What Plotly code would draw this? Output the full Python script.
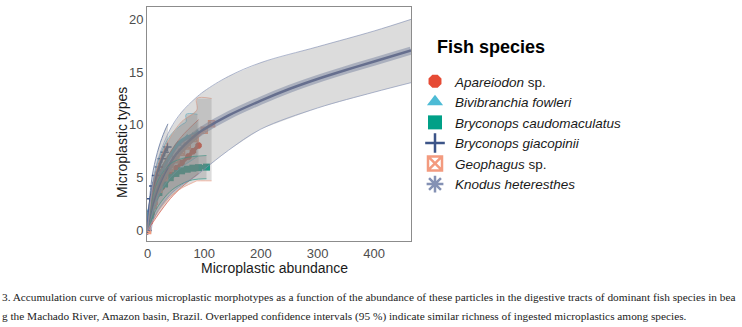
import plotly.graph_objects as go

# ---------------- data ----------------
species = ["Apareiodon sp.", "Bivibranchia fowleri", "Bryconops caudomaculatus",
           "Bryconops giacopinii", "Geophagus sp.", "Knodus heteresthes"]
legend_labels = ["<i>Apareiodon</i> sp.", "<i>Bivibranchia fowleri</i>",
                 "<i>Bryconops caudomaculatus</i>", "<i>Bryconops giacopinii</i>",
                 "<i>Geophagus</i> sp.", "<i>Knodus heteresthes</i>"]

# estimated curves
apa_x = [0, 3, 7, 12, 19, 25, 31, 40, 51, 60, 72, 80, 90]
apa_y = [0, 0.8, 1.6, 2.6, 3.5, 4.1, 4.7, 5.3, 5.9, 6.4, 7.0, 7.5, 8.05]
apa_bx = [0, 10, 20, 40, 60, 90]
apa_up = [0, 3.6, 5.4, 7.4, 8.9, 10.5]
apa_lo = [0, 0.8, 1.6, 3.0, 4.1, 5.4]

biv_x = [0, 5, 10, 20, 30, 40, 54, 70, 80, 88]
biv_y = [0, 2.0, 3.3, 5.0, 6.2, 7.1, 8.2, 8.8, 9.0, 9.25]
biv_bx = [0, 10, 20, 40, 60, 68, 68, 88]
biv_up = [0, 4.6, 6.8, 9.0, 10.0, 10.3, 11.0, 11.0]
biv_lo = [0, 2.0, 3.4, 5.0, 6.0, 6.3, 6.3, 7.0]

bca_x = [0, 5, 10, 20, 30, 40, 50, 60, 70, 80, 90, 104]
bca_y = [0, 1.4, 2.4, 3.6, 4.4, 5.0, 5.4, 5.65, 5.8, 5.9, 5.95, 6.0]
bca_bx = [0, 10, 20, 40, 60, 80, 104]
bca_up = [0, 3.4, 4.9, 6.3, 6.8, 7.0, 7.1]
bca_lo = [0, 1.4, 2.4, 3.7, 4.4, 4.8, 4.9]

bgi_x = [0, 3, 6, 10, 15, 20, 25, 30, 35]
bgi_y = [0, 1.8, 3.0, 4.2, 5.2, 6.0, 6.8, 7.4, 7.9]
bgi_bx = [0, 5, 10, 20, 30, 36]
bgi_up = [0, 3.8, 5.7, 7.9, 9.4, 10.1]
bgi_lo = [0, 1.3, 2.5, 4.1, 5.3, 5.9]

geo_x = [0, 10, 20, 30, 40, 50, 60, 70, 84, 100, 113]
geo_y = [0, 2.4, 3.9, 5.0, 5.9, 6.7, 7.4, 8.0, 8.7, 9.5, 10.1]
geo_bx = [0, 10, 20, 40, 60, 87, 87, 113]
geo_up = [0, 4.4, 6.4, 8.8, 10.3, 11.4, 12.5, 12.5]
geo_lo = [0, 1.0, 1.9, 3.2, 4.0, 4.7, 4.7, 4.7]

kno_x = [0, 5, 10, 20, 30, 50, 84, 100, 143, 200, 250, 300, 350, 400, 465]
kno_y = [0, 1.5, 2.6, 4.2, 5.4, 7.2, 9.0, 9.6, 10.9, 12.3, 13.4, 14.35, 15.2, 16.0, 17.05]
kno_bx = [0, 10, 20, 40, 60, 84, 100, 143, 200, 300, 400, 465]
kno_up = [0, 4.8, 7.0, 9.6, 11.2, 12.5, 13.2, 14.6, 15.9, 17.4, 18.9, 20.0]
kno_lo = [0, 1.0, 2.0, 3.4, 4.3, 5.1, 5.8, 7.6, 9.6, 11.6, 13.1, 14.0]

x_ticks = [0, 100, 200, 300, 400]
y_ticks = [0, 5, 10, 15, 20]

caption_1 = ("3. Accumulation curve of various microplastic morphotypes as a function of the abundance "
             "of these particles in the digestive tracts of dominant fish species in bea")
caption_2 = ("g the Machado River, Amazon basin, Brazil. Overlapped confidence intervals (95 %) "
             "indicate similar richness of ingested microplastics among species.")

colors = ["#E64B35", "#4DBBD5", "#00A087", "#3C5488", "#F39B7F", "#8491B4"]
symbols = ["octagon", "triangle-up", "square", "cross-thin-open", "square-x-open", "asterisk-open"]
line_widths = [3.5, 4, 4.5, 3, 3, 2.5]
marker_sizes = [7, 7, 7, 6, 6, 6]

curves = [(apa_x, apa_y), (biv_x, biv_y), (bca_x, bca_y), (bgi_x, bgi_y), (geo_x, geo_y), (kno_x, kno_y)]
bands = [(apa_bx, apa_up, apa_lo), (biv_bx, biv_up, biv_lo), (bca_bx, bca_up, bca_lo),
         (bgi_bx, bgi_up, bgi_lo), (geo_bx, geo_up, geo_lo), (kno_bx, kno_up, kno_lo)]

FONT = "Liberation Sans, Arial, sans-serif"
fig = go.Figure()

# curves (drawn below the ribbons, as in the original)
for i, (cx, cy) in enumerate(curves):
    c = colors[i]
    if i == 5:
        fig.add_trace(go.Scatter(x=cx, y=cy, mode="lines", showlegend=False, hoverinfo="skip",
                                 line=dict(color="rgba(132,145,180,0.55)", width=8, shape="spline")))
        fig.add_trace(go.Scatter(x=cx, y=cy, mode="lines", showlegend=False, hoverinfo="skip",
                                 line=dict(color="#5c6894", width=line_widths[i], shape="spline")))
        continue
    open_sym = symbols[i].endswith("open")
    fig.add_trace(go.Scatter(
        x=cx, y=cy, mode="lines+markers", showlegend=False, hoverinfo="skip",
        line=dict(color=c, width=line_widths[i], shape="spline"),
        marker=dict(symbol=symbols[i], size=marker_sizes[i], color=c,
                    line=dict(color=c, width=1.5 if open_sym else 0))))

# confidence ribbons on top: grey fill, coloured upper / lower limits
for i, (bx, up, lo) in enumerate(bands):
    fig.add_trace(go.Scatter(
        x=list(bx) + list(bx)[::-1], y=list(up) + list(lo)[::-1],
        mode="lines", fill="toself", fillcolor="rgba(128,128,128,0.28)",
        line=dict(width=0), showlegend=False, hoverinfo="skip"))
    for edge in (up, lo):
        fig.add_trace(go.Scatter(
            x=bx, y=edge, mode="lines", showlegend=False, hoverinfo="skip",
            line=dict(color=colors[i], width=0.8, shape="spline"), opacity=0.8))

# legend entries
for i, lab in enumerate(legend_labels):
    open_sym = symbols[i].endswith("open")
    fig.add_trace(go.Scatter(
        x=[None], y=[None], mode="markers", name=lab,
        marker=dict(symbol=symbols[i], size=14, color=colors[i],
                    line=dict(color=colors[i], width=2.5 if open_sym else 0))))

W, H = 742, 327
L, R, T, B = 147, 331, 7, 86
pw, ph = W - L - R, H - T - B

def px2paper(px, py):
    return (px - L) / pw, (H - B - py) / ph

lx, ly = px2paper(415, 66)
tx, ty = px2paper(435, 47)
xtx, xty = px2paper(274.5, 268)
ytx, yty = px2paper(122, 143)
c1x, c1y = px2paper(0, 297)
c2x, c2y = px2paper(0, 316)

CAP_FONT = dict(family="Liberation Serif, serif", size=11.3, color="#222222")

fig.update_layout(
    width=W, height=H, margin=dict(l=L, r=R, t=T, b=B),
    plot_bgcolor="white", paper_bgcolor="white",
    font=dict(family=FONT, color="#4d4d4d"),
    legend=dict(x=lx, y=ly, xanchor="left", yanchor="top",
                font=dict(family=FONT, size=13.5, color="#1a1a1a"),
                bgcolor="rgba(0,0,0,0)", itemsizing="trace"),
    xaxis=dict(range=[-1, 465], tickvals=x_ticks, showgrid=False, zeroline=False,
               showline=True, mirror=True, linecolor="#8c8c8c", linewidth=1, ticks="",
               tickfont=dict(size=13, color="#4d4d4d")),
    yaxis=dict(range=[-1.0, 21.17], tickvals=y_ticks, showgrid=False, zeroline=False,
               showline=True, mirror=True, linecolor="#8c8c8c", linewidth=1, ticks="",
               tickfont=dict(size=13, color="#4d4d4d")),
    annotations=[
        dict(x=tx, y=ty, xref="paper", yref="paper", text="<b>Fish species</b>",
             showarrow=False, xanchor="left", yanchor="middle",
             font=dict(family=FONT, size=18, color="#000000")),
        dict(x=xtx, y=xty, xref="paper", yref="paper", text="Microplastic abundance",
             showarrow=False, xanchor="center", yanchor="middle",
             font=dict(family=FONT, size=14, color="#1a1a1a")),
        dict(x=ytx, y=yty, xref="paper", yref="paper", text="Microplastic types",
             showarrow=False, xanchor="center", yanchor="middle", textangle=-90,
             font=dict(family=FONT, size=14, color="#1a1a1a")),
        dict(x=c1x, y=c1y, xref="paper", yref="paper", align="left", text=caption_1,
             showarrow=False, xanchor="left", yanchor="middle", font=CAP_FONT),
        dict(x=c2x, y=c2y, xref="paper", yref="paper", align="left", text=caption_2,
             showarrow=False, xanchor="left", yanchor="middle", font=CAP_FONT),
    ],
)

fig.write_html("out.html")
